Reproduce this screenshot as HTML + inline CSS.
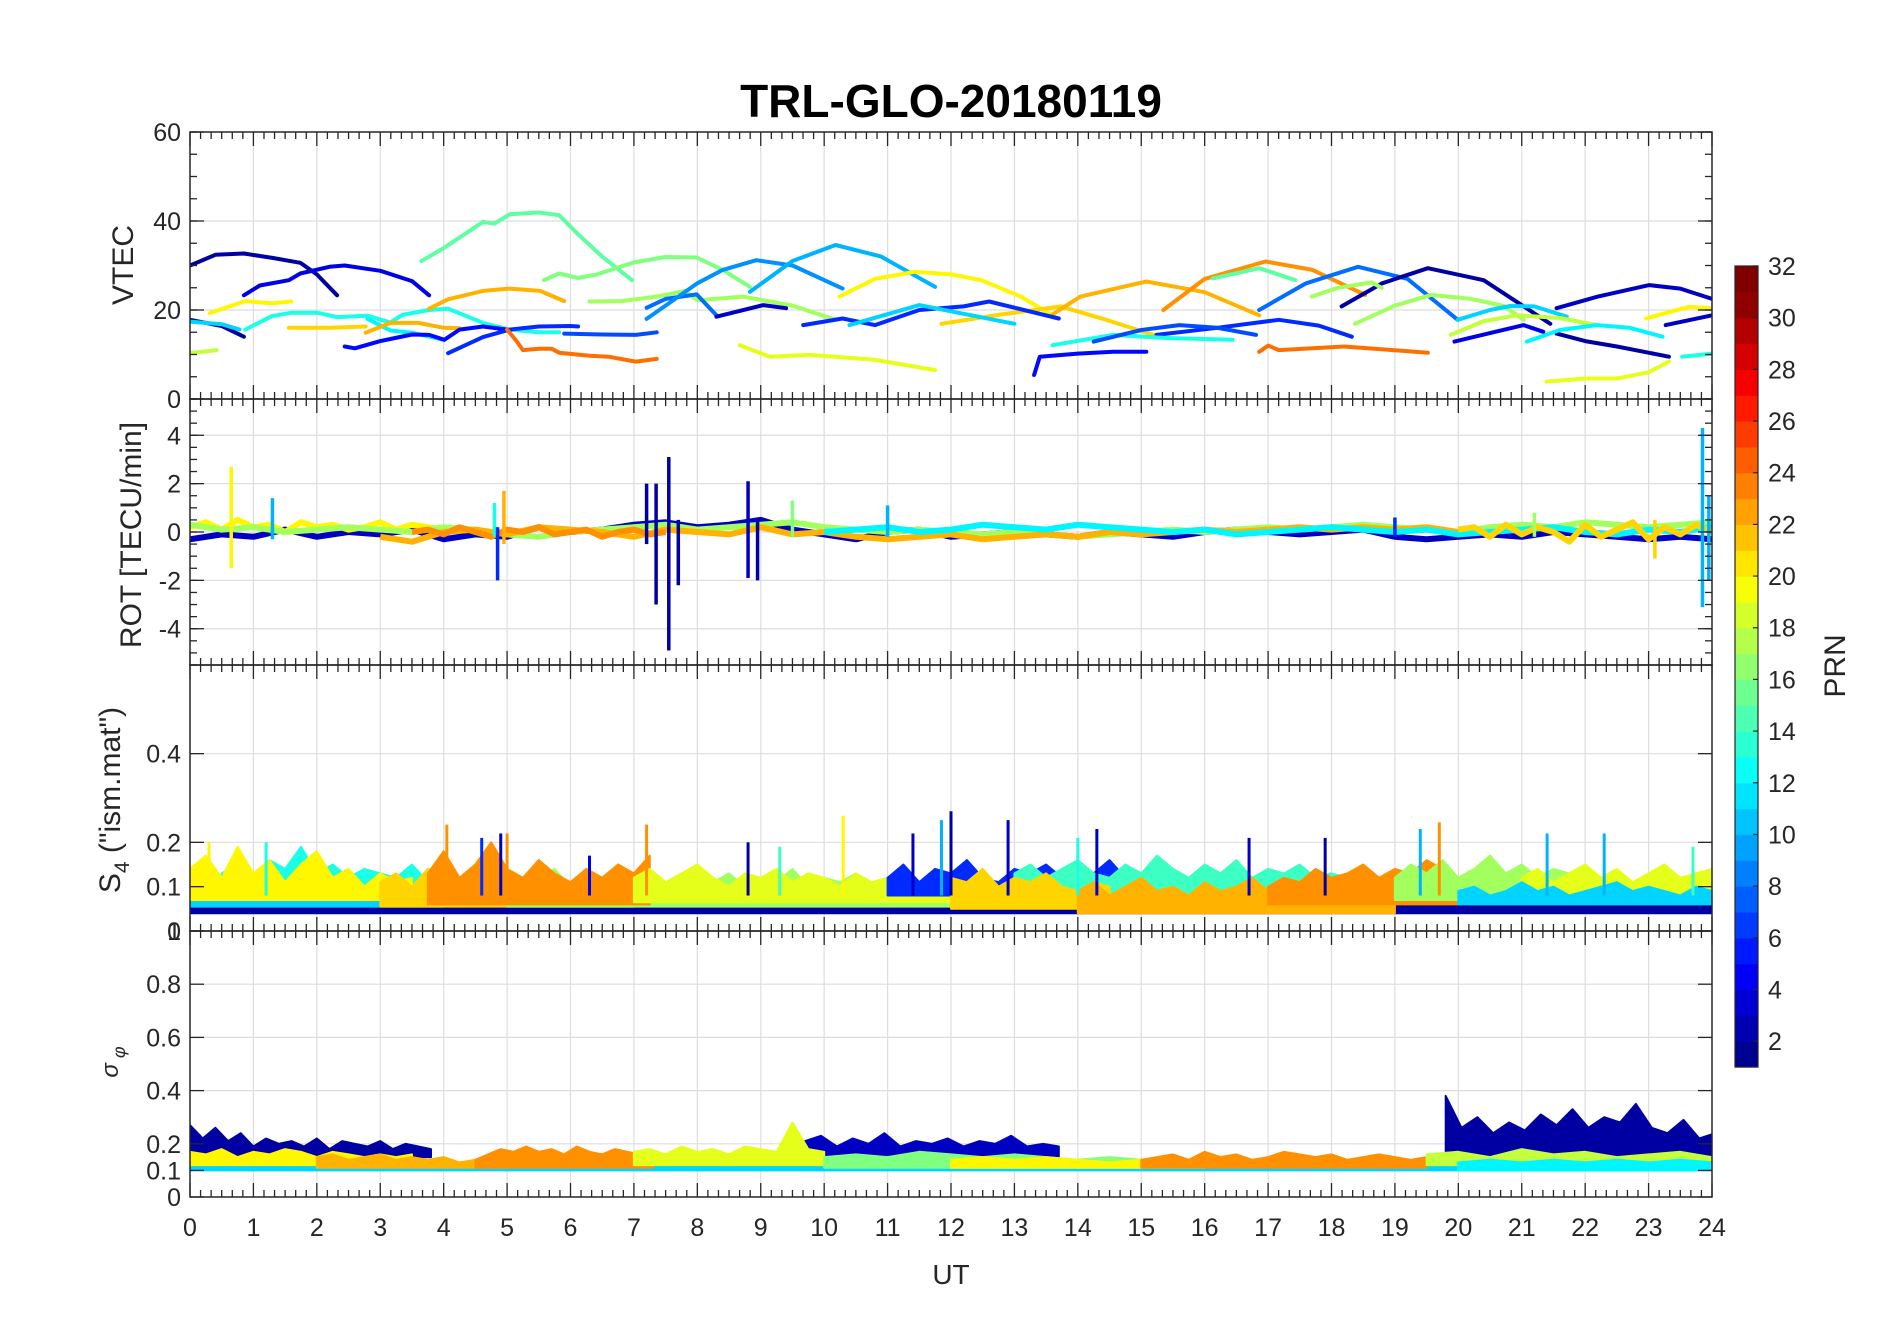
<!DOCTYPE html>
<html><head><meta charset="utf-8"><title>TRL-GLO-20180119</title>
<style>
html,body{margin:0;padding:0;background:#fff;}
svg{display:block;font-family:"Liberation Sans",Arial,sans-serif;}
</style></head>
<body>
<svg id="fig" width="1902" height="1330" viewBox="0 0 1902 1330" xmlns="http://www.w3.org/2000/svg">
<rect width="1902" height="1330" fill="#fff"/>
<text x="951" y="117" text-anchor="middle" font-size="46" font-weight="bold" fill="#000">TRL-GLO-20180119</text>
<g id="layer"></g>
</svg>
<script>
// ---------- VTEC arcs ----------
const vtecPrn = [2,4,2,11,13,20,21,18,12,22,5,22,15,16,6,7,24,17,8,9,10,20,21,22,23,15,8,2,17,17,11,3,18,4,2,12,19,13,20,3,6,24,5,13,7,19,3,6,11];
const vtecT = [
 [0,0.4,0.85,1.3,1.74,2.0,2.32],
 [0.85,1.1,1.56,1.74,2.2,2.44,3.0,3.5,3.77],
 [0,0.5,0.85],
 [0,0.5,0.78],
 [0.87,1.29,1.6,2.0,2.32,2.8,3.16,3.35,3.77,4.07,4.62,5.04,5.5,5.82],
 [0.31,0.87,1.29,1.6],
 [1.56,2.2,2.77],
 [0,0.42],
 [2.8,3.16,3.5,4.0],
 [2.77,3.16,3.6,4.0,4.25],
 [2.44,2.6,3.0,3.5,3.77,4.01,4.25,4.62,5.0],
 [3.77,4.07,4.62,5.04,5.52,5.9],
 [3.65,4.01,4.62,4.8,5.04,5.5,5.82,6.12,6.5,6.97],
 [5.58,5.82,6.12,6.42,7.0,7.5,7.99,8.4,8.83],
 [4.07,4.62,5.04,5.5,6.0,6.12],
 [5.9,6.5,7.03,7.36],
 [5.0,5.15,5.25,5.5,5.7,5.82,6.3,6.6,7.03,7.36],
 [6.3,6.8,7.36,7.8,8.0,8.72,9.5,10.18],
 [7.2,7.5,7.99,8.3],
 [7.2,7.6,8.0,8.4,8.93,9.5,10.29],
 [8.83,9.5,10.18,10.9,11.75],
 [10.24,10.8,11.43,12.0,12.48,13.1,13.68],
 [11.85,12.8,13.73,14.4,15.19],
 [13.6,14.04,15.08,16.0,16.86],
 [15.35,16.0,16.96,17.7,18.53],
 [16.13,16.86,17.43],
 [16.86,17.6,18.42,19.2,19.99],
 [18.16,18.8,19.52,20.4,21.45],
 [17.69,18.1,18.63,18.79],
 [18.37,19.0,19.57,20.2,20.72,21.03],
 [19.99,20.5,20.82,21.2,21.71],
 [21.55,22.2,23.01,23.5,24],
 [19.88,20.4,20.93,21.6,22.18],
 [19.94,20.5,21.03,21.34],
 [21.55,22.0,22.5,23.32],
 [21.08,21.6,22.18,22.7,23.22],
 [21.39,22.0,22.5,23.0,23.32],
 [23.53,24],
 [22.96,23.63,24],
 [23.27,24],
 [15.24,16.2,17.17,17.8,18.32],
 [16.86,17.0,17.17,18.2,19.52],
 [13.31,13.4,14.0,14.56,15.08],
 [13.6,14.56,15.4,16.44],
 [14.25,15.0,15.6,16.2,16.81],
 [8.67,9.14,9.77,10.8,11.75],
 [8.3,9.04,9.4],
 [9.67,10.29,10.8,11.5,12.2,12.6,13.7],
 [10.4,11.5,13.0]
];
const vtecV = [
 [30.0,32.4,32.7,31.7,30.6,28,23.3],
 [23.3,25.5,26.7,28.2,29.7,30.0,28.8,26.5,23.3],
 [17.8,16.4,14.0],
 [17.4,16.8,15.6],
 [15.6,18.6,19.4,19.4,18.4,18.7,17.2,18.9,20.0,20.3,17.1,15.6,15.0,15.0],
 [19.3,22.0,21.5,21.9],
 [16.0,16.0,16.3],
 [10.3,11.0],
 [18.0,15.4,14.9,13.3],
 [14.9,17.1,17.1,16.0,15.9],
 [11.8,11.4,13.0,14.5,14.4,13.3,15.6,16.3,15.6],
 [20.3,22.4,24.3,24.8,24.3,22.0],
 [31.0,34,39.8,39.4,41.5,41.9,41.3,37,32,26.7],
 [26.7,28.2,27.2,28,30.7,31.9,31.8,29,25.2],
 [10.3,13.9,15.6,16.3,16.4,16.3],
 [14.7,14.5,14.4,15.0],
 [15.6,13,11.0,11.3,11.3,10.4,9.7,9.5,8.4,9.0],
 [21.9,22,23.0,24.3,22.2,23,21,17.8],
 [20.5,22.5,23.5,18.8],
 [18,22,26,29,31.2,30,24.8],
 [24.1,31,34.6,32,25.2],
 [23.0,27,28.6,28,26.7,23,18.1],
 [16.9,19,20.8,18,14.4],
 [19,23.0,26.4,24,18.8],
 [20.0,27,30.9,29,23.4],
 [27.1,29.4,26.7],
 [20.0,26,29.7,27,17.8],
 [20.8,26,29.4,26.7,16.9],
 [23.0,25,26.2,25],
 [16.9,21,23.4,22.5,20.9,17.8],
 [17.8,20,20.9,20.8,18.5],
 [20.4,23,25.6,24.8,22.5],
 [14.4,17.5,18.8,18.2,16.6],
 [12.9,14.8,16.6,15.1],
 [14.7,13,11.8,9.5],
 [12.9,15.5,16.6,16,14.0],
 [3.9,4.6,4.6,6,8.4],
 [9.5,10.2],
 [18.1,20.7,20.4],
 [16.6,18.8],
 [14.4,16,17.8,16.5,14.0],
 [10.6,12,11.0,11.8,10.4],
 [5.4,9.5,10.2,10.6,10.6],
 [12.1,14.4,13.7,13.3],
 [12.9,15.5,16.6,16,14.4],
 [12.1,9.5,9.9,8.8,6.5],
 [18.5,21.1,20.4],
 [16.6,18.1,16.6,20.0,20.8,21.9,18.1],
 [16.6,21.1,16.9]
];

// ---------- ROT ----------
const rotPrn = [3,20,17,22,23,12,21];
const rotT0 = [0,0,0,3,3.5,10,20];
const rotDt = [0.5,0.25,0.5,0.5,0.25,0.5,0.25];
const rotV = [
 [-.3,-.1,-.2,.1,-.2,0,-.1,.1,-.3,-.1,-.2,.2,0,.1,.3,.4,.2,.3,.5,.1,-.1,-.3,0,.1,-.2,-.1,0,-.1,-.2,0,-.1,-.2,0,.1,0,-.1,0,.1,-.2,-.3,-.2,-.1,-.2,0,-.1,-.2,-.3,-.2,-.3],
 [.2,.4,.1,.5,.2,.3,0,.4,.2,.3,.1,.2,.4,.1,.3,.2,.1],
 [.3,.1,.2,0,.1,.2,.1,0,.2,.1,-.1,-.2,0,.1,.2,.3,.1,.2,.3,.4,.2,.1,0,.1,0,-.1,0,-.1,-.2,-.1,0,.1,0,.1,.2,.1,.2,.3,.2,.1,0,.2,.3,.2,.4,.3,.2,.3,.4],
 [-.2,-.4,0,.1,-.1,.2,.1,0,-.2,.1,0,-.1,.2,-.1,0,-.2,-.3,-.2,-.1,-.3,-.2,-.1,-.2,0,-.1,0,.1,0,.1,.2,.1,.2,.1,.2,0],
 [0,.1,-.1,.2,0,-.2,.1,0,.2,-.1,0,.1,-.2,0,.1,-.1,0],
 [0,.1,.2,0,.1,.3,.2,.1,.3,.2,.1,0,.1,-.1,0,.1,.2,.1,0,.1,-.1,0,.1,.2,0,-.1,.1,0,.2],
 [.1,.2,-.2,.3,-.1,.2,0,-.4,.3,-.2,.1,.4,-.3,.2,-.1,.3,0]
];
const rotSpikePrn = [20,10,13,6,22,2,2,2,2,3,2,16,10,6,10,10,17,21];
const rotSpikeT = [0.65,1.3,4.8,4.85,4.95,7.2,7.35,7.55,7.7,8.8,8.95,9.5,11.0,19.0,23.85,23.95,21.2,23.1];
const rotSpikeLo = [-1.5,-0.3,-0.2,-2.0,-0.5,-0.5,-3.0,-4.9,-2.2,-1.9,-2.0,-0.2,-0.2,-0.2,-3.1,-2,-0.2,-1.1];
const rotSpikeHi = [2.7,1.4,1.2,0.2,1.7,2.0,2.0,3.1,0.5,2.1,0.5,1.3,1.1,0.6,4.3,1.5,0.8,0.5];

// ---------- S4 ----------
const s4Prn = [2,11,13,20,21,17,23,19,6,14,21,22,23,17,19,11];
const s4T0 = [0,0,0.5,0,3,5,3.75,7,11,13,12,14,17,19,21,20];
const s4Dt = [0.5,0.25,0.25,0.25,0.25,0.25,0.25,0.25,0.25,0.25,0.25,0.25,0.25,0.25,0.25,0.25];
const s4Lo = [.04,.055,.07,.07,.055,.055,.06,.065,.08,.08,.05,.04,.06,.07,.07,.06];
const s4Hi = [
 [.07,.065,.08,.07,.075,.06,.07,.08,.07,.065,.07,.075,.07,.06,.065,.07,.06,.07,.075,.07,.065,.07,.06,.07,.065,.07,.06,.065,.07,.06,.065,.07,.06,.07,.075,.065,.07,.08,.07,.065,.07,.075,.07,.065,.07,.075,.07,.065,.07],
 [.10,.09,.11,.095,.10,.09,.12,.10,.095,.11,.10,.09,.10,.095,.11,.09,.10],
 [.13,.15,.12,.16,.14,.19,.13,.15,.12,.14,.13,.12,.15,.11,.13,.12,.14],
 [.14,.17,.12,.19,.13,.16,.11,.15,.18,.12,.14,.10,.13,.11,.12],
 [.11,.13,.10,.14,.12,.10,.13,.11,.12,.10,.11,.13,.10,.12,.11,.10,.12],
 [.10,.12,.11,.14,.10,.13,.12,.15,.11,.13,.10,.12,.14,.11,.13,.10,.12,.11,.14,.10,.12,.11,.13,.10,.12,.11,.10,.12,.11],
 [.13,.18,.12,.15,.20,.14,.12,.16,.13,.11,.14,.12,.15,.13,.17],
 [.12,.14,.11,.13,.15,.12,.10,.13,.12,.14,.11,.13,.12,.10,.13,.11,.12,.14,.11,.12,.13,.11,.12],
 [.12,.15,.11,.14,.13,.16,.12,.11,.14,.13,.15,.12,.14,.13,.16,.12,.13,.11,.12,.10,.11],
 [.13,.15,.12,.14,.16,.13,.12,.15,.13,.17,.14,.12,.15,.13,.16,.12,.14,.13,.15,.12,.13,.12,.11],
 [.12,.11,.14,.10,.12,.11,.13,.10,.09,.11,.10],
 [.09,.11,.08,.10,.12,.09,.10,.08,.11,.09,.10,.12,.09,.10,.08,.11,.09,.10,.08,.09,.10],
 [.10,.12,.11,.14,.12,.13,.15,.12,.14,.13,.16,.14,.12],
 [.12,.15,.13,.16,.12,.14,.17,.13,.15,.12,.14,.13,.15,.12,.13],
 [.12,.14,.11,.13,.15,.12,.14,.11,.13,.15,.12,.13,.14],
 [.09,.10,.08,.09,.11,.09,.10,.08,.09,.10,.11,.09,.10,.09,.08,.10,.09]
];
const s4SpikePrn = [23,6,3,23,23,20,3,10,2,3,3,13,3,2,10,23,10,10,14,20,13,14,4,2];
const s4SpikeT = [4.05,4.6,4.9,5.0,7.2,10.3,11.4,11.85,12.0,12.9,14.3,14.0,16.7,17.9,19.4,19.7,21.4,22.3,23.7,0.3,1.2,9.3,6.3,8.8];
const s4SpikeV = [.24,.21,.22,.22,.24,.26,.22,.25,.27,.25,.23,.21,.21,.21,.23,.245,.22,.22,.19,.2,.2,.19,.17,.20];

// ---------- sigma phi ----------
const sigPrn = [2,3,2,11,20,22,23,19,16,20,23,18,12];
const sigT0 = [0,9.7,19.8,0,0,2,4.5,7,10,12,15,19.5,20];
const sigDt = [0.2,0.25,0.25,0.5,0.25,0.25,0.2,0.25,0.5,0.5,0.25,0.5,0.5];
const sigLo = [.15,.14,.14,.10,.12,.11,.11,.12,.11,.11,.11,.12,.10];
const sigHi = [
 [.27,.22,.26,.21,.24,.19,.22,.20,.21,.19,.22,.18,.21,.20,.19,.21,.18,.20,.19,.18],
 [.21,.23,.19,.22,.20,.24,.19,.21,.20,.22,.19,.21,.20,.23,.19,.20,.19],
 [.38,.26,.30,.24,.28,.25,.31,.27,.33,.26,.30,.28,.35,.26,.24,.29,.22,.24],
 [.13,.14,.13,.12,.13,.14,.13,.12,.13,.12,.13,.14,.12,.13,.12,.13,.12,.13,.12,.13,.14,.13,.12,.13,.12,.13,.12,.13,.12,.13,.12,.13,.12,.13,.14,.13,.12,.13,.12,.13,.12,.13,.14,.13,.12,.13,.14,.13,.12],
 [.17,.16,.18,.15,.17,.16,.18,.17,.15,.17,.16,.15,.16,.15,.16],
 [.15,.16,.14,.15,.16,.14,.15,.14,.15,.13,.14,.15,.14],
 [.14,.16,.18,.17,.19,.17,.18,.16,.19,.17,.16,.18,.17,.16,.17],
 [.17,.18,.16,.19,.17,.18,.16,.19,.18,.17,.28,.18,.17],
 [.15,.16,.15,.17,.16,.15,.16,.15,.14,.15,.14],
 [.14,.15,.14,.15,.14,.13,.14,.13,.14],
 [.14,.15,.16,.14,.17,.15,.16,.14,.15,.17,.16,.15,.16,.14,.15,.16,.15,.14,.15],
 [.16,.17,.15,.18,.16,.17,.15,.16,.17,.15],
 [.13,.14,.13,.14,.13,.14,.13,.14,.13]
];

// ---------- axes ----------
const xTicks = [0,1,2,3,4,5,6,7,8,9,10,11,12,13,14,15,16,17,18,19,20,21,22,23,24];
const cbTicks = [2,4,6,8,10,12,14,16,18,20,22,24,26,28,30,32];

const NS = "http://www.w3.org/2000/svg";
const layer = document.getElementById('layer');
const X0 = 190, X1 = 1712;
function xs(t){ return X0 + t*(X1-X0)/24; }
const panels = [
 {name:'vtec', top:132, bot:399, min:0, max:60, ticks:[0,20,40,60], labels:['0','20','40','60'], minor:5},
 {name:'rot', top:399, bot:665, min:-5.5, max:5.5, ticks:[-4,-2,0,2,4], labels:['-4','-2','0','2','4'], minor:0.5},
 {name:'s4', top:665, bot:931, min:0, max:0.6, ticks:[0,0.1,0.2,0.4], labels:['0','0.1','0.2','0.4'], minor:0},
 {name:'sigma', top:931, bot:1197, min:0, max:1, ticks:[0,0.1,0.2,0.4,0.6,0.8,1], labels:['0','0.1','0.2','0.4','0.6','0.8','1'], minor:0}
];
function ys(p,v){ return p.bot - (v-p.min)/(p.max-p.min)*(p.bot-p.top); }
function jet(prn){
  const x = Math.min(1,Math.max(0,(prn-1)/30));
  const c = v => Math.round(255*Math.min(1,Math.max(0,v)));
  return 'rgb('+c(1.5-Math.abs(4*x-3))+','+c(1.5-Math.abs(4*x-2))+','+c(1.5-Math.abs(4*x-1))+')';
}
function mk(tag, attrs, parent){
  const e = document.createElementNS(NS, tag);
  for (const k in attrs) e.setAttribute(k, attrs[k]);
  (parent||layer).appendChild(e);
  return e;
}

panels.forEach(p=>{
  const g = mk('g',{});
  
  
  for (let h=1; h<24; h++) mk('line',{x1:xs(h),x2:xs(h),y1:p.top,y2:p.bot,stroke:'#dedede','stroke-width':1.2},g);
  p.ticks.forEach(v=>{ if(v>p.min && v<p.max) mk('line',{x1:X0,x2:X1,y1:ys(p,v),y2:ys(p,v),stroke:'#dedede','stroke-width':1.2},g); });
});

const defs = mk('defs',{});
panels.forEach((p,i)=>{
  const cp = mk('clipPath',{id:'clip'+i},defs);
  mk('rect',{x:X0,y:p.top,width:X1-X0,height:p.bot-p.top},cp);
});

function bandPoly(p, t0, dt, lo, hi){
  let up = [], dn = [];
  hi.forEach((v,i)=>{ up.push(xs(t0+i*dt).toFixed(1)+','+ys(p,v).toFixed(1)); });
  for (let i=hi.length-1;i>=0;i--) dn.push(xs(t0+i*dt).toFixed(1)+','+ys(p,lo).toFixed(1));
  return up.concat(dn).join(' ');
}

{
  const p = panels[0];
  const g = mk('g',{'clip-path':'url(#clip0)'});
  
  
  vtecT.forEach((ts,i)=>{
    const pts = ts.map((t,j)=>xs(t).toFixed(1)+','+ys(p,vtecV[i][j]).toFixed(1)).join(' ');
    const pl = mk('polyline',{points:pts,fill:'none',stroke:jet(vtecPrn[i]),'stroke-width':4,'stroke-linejoin':'round','stroke-linecap':'round'},g);
    
    
  });
}
{
  const p = panels[1];
  const g = mk('g',{'clip-path':'url(#clip1)'});
  
  
  rotV.forEach((vals,i)=>{
    const pts = vals.map((v,j)=>xs(rotT0[i]+j*rotDt[i]).toFixed(1)+','+ys(p,v).toFixed(1)).join(' ');
    const pl = mk('polyline',{points:pts,fill:'none',stroke:jet(rotPrn[i]),'stroke-width':6,'stroke-linejoin':'round'},g);
    
    
  });
  rotSpikeT.forEach((t,i)=>{
    const l = mk('line',{x1:xs(t),x2:xs(t),y1:ys(p,rotSpikeLo[i]),y2:ys(p,rotSpikeHi[i]),stroke:jet(rotSpikePrn[i]),'stroke-width':3.5},g);
    
    
  });
}
{
  const p = panels[2];
  const g = mk('g',{'clip-path':'url(#clip2)'});
  
  
  s4Hi.forEach((hi,i)=>{
    const c = jet(s4Prn[i]);
    const pg = mk('polygon',{points:bandPoly(p,s4T0[i],s4Dt[i],s4Lo[i],hi),fill:c,stroke:c,'stroke-width':2,'stroke-linejoin':'round'},g);
    
    
  });
  s4SpikeT.forEach((t,i)=>{
    const l = mk('line',{x1:xs(t),x2:xs(t),y1:ys(p,0.08),y2:ys(p,s4SpikeV[i]),stroke:jet(s4SpikePrn[i]),'stroke-width':3},g);
    
    
  });
}
{
  const p = panels[3];
  const g = mk('g',{'clip-path':'url(#clip3)'});
  
  
  sigHi.forEach((hi,i)=>{
    const c = jet(sigPrn[i]);
    const pg = mk('polygon',{points:bandPoly(p,sigT0[i],sigDt[i],sigLo[i],hi),fill:c,stroke:c,'stroke-width':2,'stroke-linejoin':'round'},g);
    
    
  });
}

const INK = '#262626';
panels.forEach((p,pi)=>{
  const g = mk('g',{});
  
  
  mk('rect',{x:X0,y:p.top,width:X1-X0,height:p.bot-p.top,fill:'none',stroke:INK,'stroke-width':1.5},g);
  for (let k=0;k<=144;k++){
    const x = xs(k/6), L = (k%6===0)?14:7;
    mk('line',{x1:x,x2:x,y1:p.bot,y2:p.bot-L,stroke:INK,'stroke-width':1.3},g);
    mk('line',{x1:x,x2:x,y1:p.top,y2:p.top+L,stroke:INK,'stroke-width':1.3},g);
  }
  p.ticks.forEach((v,i)=>{
    const y = ys(p,v);
    mk('line',{x1:X0,x2:X0+14,y1:y,y2:y,stroke:INK,'stroke-width':1.3},g);
    mk('line',{x1:X1,x2:X1-14,y1:y,y2:y,stroke:INK,'stroke-width':1.3},g);
    const tx = mk('text',{x:X0-9,y:y+9,'text-anchor':'end','font-size':25,fill:INK},g);
    tx.textContent = p.labels[i];
    
    
  });
  if (p.minor){
    for (let v=Math.ceil(p.min/p.minor)*p.minor; v<=p.max; v+=p.minor){
      const y = ys(p,v);
      mk('line',{x1:X0,x2:X0+7,y1:y,y2:y,stroke:INK,'stroke-width':1.3},g);
      mk('line',{x1:X1,x2:X1-7,y1:y,y2:y,stroke:INK,'stroke-width':1.3},g);
    }
  }
});
{
  const g = mk('g',{});
  
  
  xTicks.forEach(t=>{
    const tx = mk('text',{x:xs(t),y:1236,'text-anchor':'middle','font-size':25,fill:INK},g);
    tx.textContent = String(t);
    
    
  });
  const ut = mk('text',{x:951,y:1284,'text-anchor':'middle','font-size':28,fill:INK},g);
  ut.textContent = 'UT';
  
  
}
{
  const t1 = mk('text',{x:0,y:0,transform:'translate(133,265) rotate(-90)','text-anchor':'middle','font-size':30,fill:INK});
  t1.textContent = 'VTEC';
  
  
  const t2 = mk('text',{x:0,y:0,transform:'translate(141,535) rotate(-90)','text-anchor':'middle','font-size':30,fill:INK});
  t2.textContent = 'ROT [TECU/min]';
  
  
  const t3 = mk('text',{x:0,y:0,transform:'translate(120,800) rotate(-90)','text-anchor':'middle','font-size':30,fill:INK});
  t3.innerHTML = 'S<tspan font-size="21" dy="9">4</tspan><tspan dy="-9"> ("ism.mat")</tspan>';
  
  
  const t4 = mk('text',{x:0,y:0,transform:'translate(118,1062) rotate(-90)','text-anchor':'middle','font-size':24,'font-style':'italic',fill:INK});
  t4.innerHTML = 'σ<tspan font-size="18" dy="7"> φ</tspan>';
  
  
}
{
  const g = mk('g',{});
  
  
  const cbTop = 266, cbBot = 1067, cbX = 1735, cbW = 23;
  const u = (cbBot-cbTop)/31;
  for (let k=0;k<31;k++){
    const r = mk('rect',{x:cbX,y:(cbBot-(k+1)*u).toFixed(2),width:cbW,height:(u+0.6).toFixed(2),fill:jet(k+1.5)},g);
    
    
  }
  mk('rect',{x:cbX,y:cbTop,width:cbW,height:cbBot-cbTop,fill:'none',stroke:INK,'stroke-width':1.2},g);
  cbTicks.forEach(v=>{
    const y = cbBot-(v-1)*u;
    mk('line',{x1:cbX+cbW-5,x2:cbX+cbW,y1:y,y2:y,stroke:INK,'stroke-width':1.2},g);
    const tx = mk('text',{x:1768,y:y+9,'font-size':25,fill:INK},g);
    tx.textContent = String(v);
    
    
  });
  const pr = mk('text',{x:0,y:0,transform:'translate(1845,666) rotate(-90)','text-anchor':'middle','font-size':30,fill:INK},g);
  pr.textContent = 'PRN';
  
  
}
</script>
</body></html>
